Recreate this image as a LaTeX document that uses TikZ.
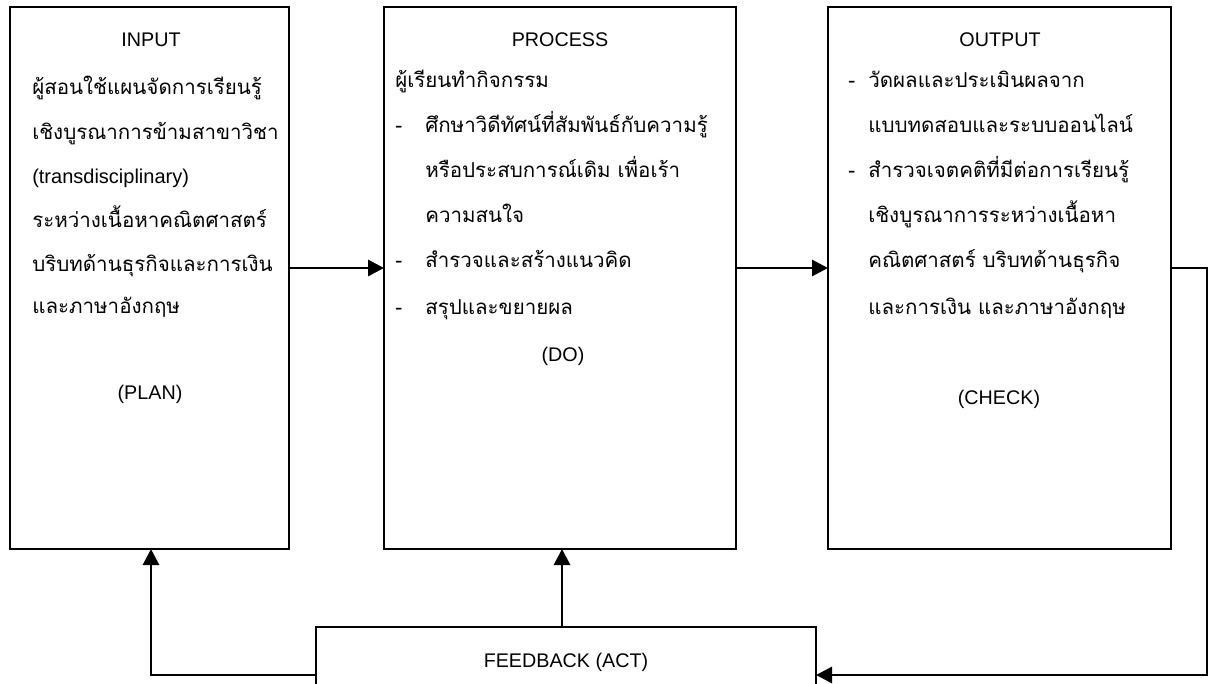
\documentclass[tikz,border=0pt]{standalone}
\usepackage{fontspec}
\usetikzlibrary{arrows.meta}
\newfontfamily\thaifont[Script=Thai]{Loma}
\setmainfont{Liberation Sans}
\tikzset{
  box/.style={draw, line width=1.4pt, rectangle, inner sep=0pt, outer sep=0pt},
  txt/.style={anchor=base west, inner sep=0pt, font=\thaifont\fontsize{15.4pt}{18pt}\selectfont},
  ltx/.style={anchor=base west, inner sep=0pt, font=\fontsize{15pt}{18pt}\selectfont},
  ctr/.style={anchor=base, inner sep=0pt, font=\fontsize{14.8pt}{18pt}\selectfont},
  arr/.style={line width=2.2pt, -{Triangle[length=12pt,width=12pt]}},
}
\begin{document}
\begin{tikzpicture}[x=0.75pt,y=-0.75pt]
\useasboundingbox (0,0) rectangle (1211,684);
\clip (0,0) rectangle (1211,684);
% boxes
\node[box, minimum width=209.25pt, minimum height=406.5pt] (inp) at (149.5,278) {};
\node[box, minimum width=264pt, minimum height=406.5pt] (proc) at (560,278) {};
\node[box, minimum width=257.25pt, minimum height=406.5pt] (out) at (999.5,278) {};
\node[box, minimum width=375pt, minimum height=75pt] (fb) at (566,677) {};
% INPUT text
\node[ctr] (inh) at (151,47) {INPUT};
\node[txt] (i1) at (32,95) {ผู้สอนใช้แผนจัดการเรียนรู้};
\node[txt] (i2) at (32,140) {เชิงบูรณาการข้ามสาขาวิชา};
\node[ltx] (i3) at (32,184) {(transdisciplinary)};
\node[txt] (i4) at (32,228) {ระหว่างเนื้อหาคณิตศาสตร์};
\node[txt] (i5) at (32,272) {บริบทด้านธุรกิจและการเงิน};
\node[txt] (i6) at (32,314) {และภาษาอังกฤษ};
\node[ctr] (inf) at (150,400) {(PLAN)};
% PROCESS text
\node[ctr] (prh) at (560,47) {PROCESS};
\node[txt] (p1) at (395,88) {ผู้เรียนทำกิจกรรม};
\node[txt] (pd1) at (395,133) {-};
\node[txt] (p2) at (425,133) {ศึกษาวิดีทัศน์ที่สัมพันธ์กับความรู้};
\node[txt] (p3) at (425,178) {หรือประสบการณ์เดิม เพื่อเร้า};
\node[txt] (p4) at (425,223) {ความสนใจ};
\node[txt] (pd2) at (395,268) {-};
\node[txt] (p5) at (425,268) {สำรวจและสร้างแนวคิด};
\node[txt] (pd3) at (395,315) {-};
\node[txt] (p6) at (425,315) {สรุปและขยายผล};
\node[ctr] (prf) at (563,362) {(DO)};
% OUTPUT text
\node[ctr] (ouh) at (1000,47) {OUTPUT};
\node[txt] (od1) at (848,88) {-};
\node[txt] (o1) at (868,88) {วัดผลและประเมินผลจาก};
\node[txt] (o2) at (868,133) {แบบทดสอบและระบบออนไลน์};
\node[txt] (od2) at (848,178) {-};
\node[txt] (o3) at (868,178) {สำรวจเจตคติที่มีต่อการเรียนรู้};
\node[txt] (o4) at (868,223) {เชิงบูรณาการระหว่างเนื้อหา};
\node[txt] (o5) at (868,268) {คณิตศาสตร์ บริบทด้านธุรกิจ};
\node[txt] (o6) at (868,315) {และการเงิน และภาษาอังกฤษ};
\node[ctr] (ouf) at (999,405) {(CHECK)};
% FEEDBACK text
\node[ctr] (fbt) at (566,667) {FEEDBACK (ACT)};
% connectors
\coordinate (row) at (0,268);
\coordinate (low) at (0,675);
\coordinate (rx) at (1207,0);
\coordinate (lx) at (151,0);
\coordinate (mx) at (562,0);
\draw[arr] (inp.east |- row) -- (proc.west |- row);
\draw[arr] (proc.east |- row) -- (out.west |- row);
\draw[arr] (out.east |- row) -| (rx |- low) -- (fb.east |- low);
\draw[arr] (fb.west |- low) -| (inp.south -| lx);
\draw[arr] (fb.north -| mx) -- (proc.south -| mx);
\end{tikzpicture}
\end{document}
